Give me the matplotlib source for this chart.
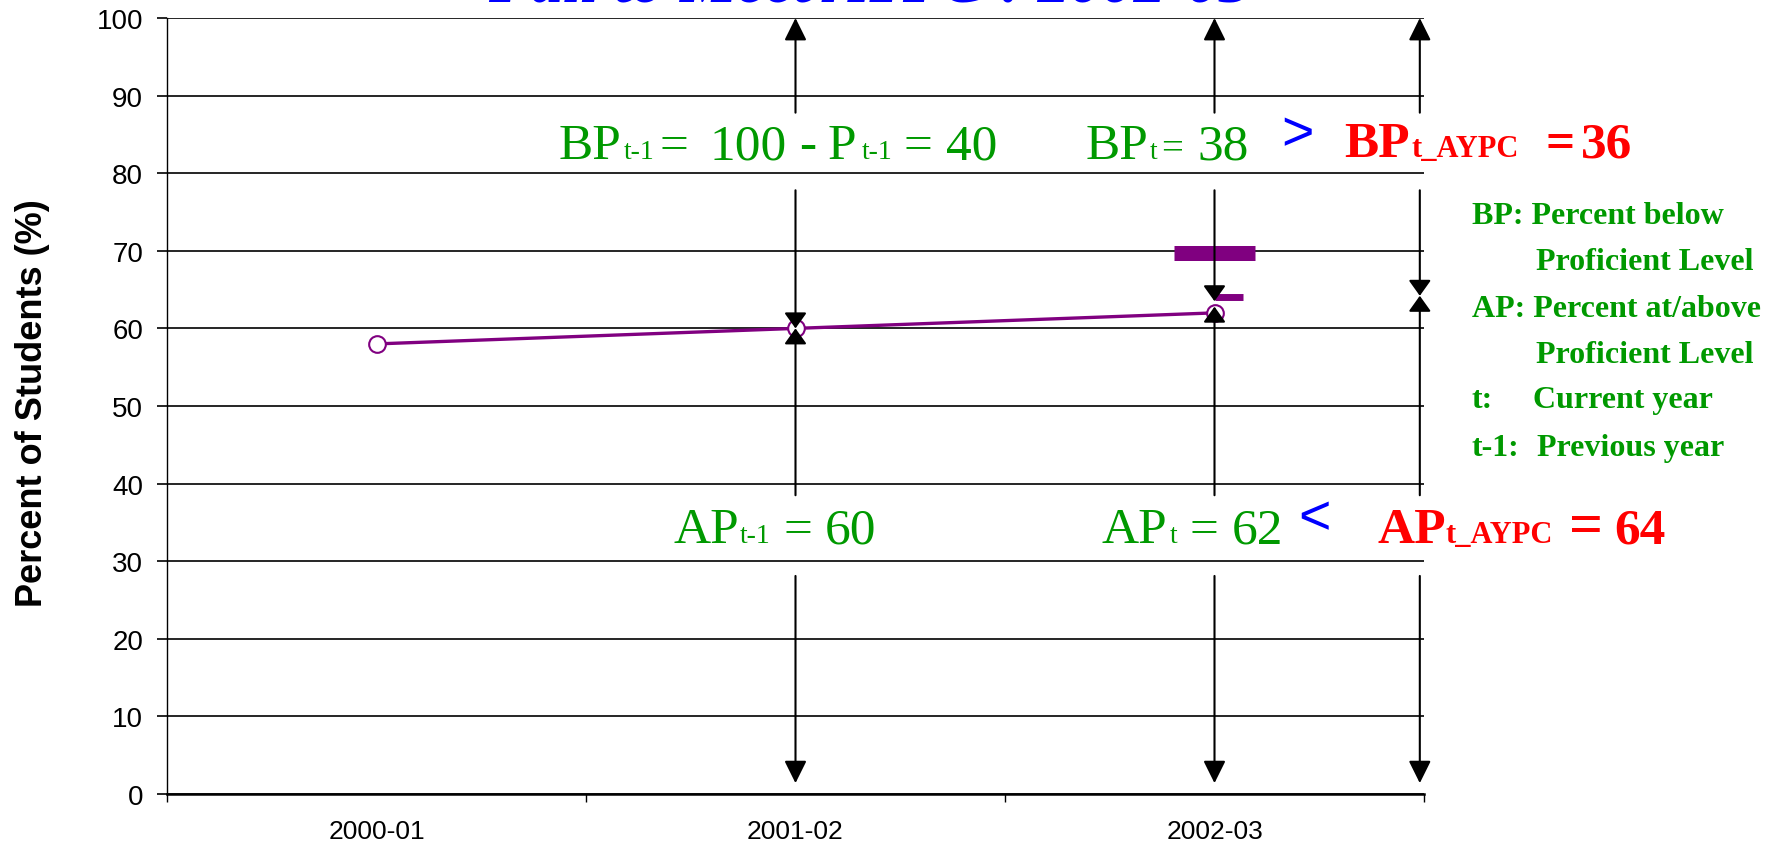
import matplotlib
matplotlib.use('Agg')
import matplotlib.pyplot as plt

W, H = 1779, 845

# data
years = ['2000-01', '2001-02', '2002-03']
pct_proficient = [58, 60, 62]
arrow_x = [1, 2, 2.49]          # 2001-02, 2002-03, AYPC target at right edge
bp_tip = [60, 63.5, 64.2]       # lower end of the BP (upper) arrows
ap_tip = [60, 62.8, 64.2]       # upper end of the AP (lower) arrows
target_bar_x = [1.903, 2.096]
target_bar_y = 69.7
aypc_bar_x = [2.0, 2.067]
aypc_bar_y = 64.1

GREEN = '#009900'
PURPLE = '#800080'
SERIF = 'Liberation Serif'
SANS = 'Liberation Sans'

fig = plt.figure(figsize=(W / 100, H / 100), dpi=100)
ax = fig.add_axes([167 / W, 1 - 795 / H, (1424 - 167) / W, (795 - 19) / H])
ax.set_xlim(-0.5, 2.5)
ax.set_ylim(0, 100)

# frame / grid
for s in ['top', 'right']:
    ax.spines[s].set_visible(False)
ax.spines['left'].set_linewidth(1.0)
ax.spines['bottom'].set_linewidth(1.8)
ax.set_yticks(range(0, 101, 10))
ax.yaxis.grid(True, color='black', linewidth=1.2)
ax.set_axisbelow(True)
ax.tick_params(axis='y', length=7.2, width=1.2, pad=10, labelsize=20)
for lab in ax.get_yticklabels():
    lab.set_family(SANS)
ax.set_xticks([-0.5, 0.5, 1.5, 2.5])
ax.set_xticklabels([])
ax.tick_params(axis='x', which='major', length=6, width=1.0)
ax.set_xticks([0, 1, 2], minor=True)
ax.set_xticklabels(years, minor=True, fontsize=19, family=SANS)
ax.tick_params(axis='x', which='minor', length=0, pad=18)

# series
ax.plot(range(len(years)), pct_proficient, color=PURPLE, lw=2.4, marker='o',
        markersize=12, markerfacecolor='white', markeredgecolor=PURPLE,
        markeredgewidth=1.5, zorder=3)
ax.plot(target_bar_x, [target_bar_y] * 2, color=PURPLE, lw=10.8,
        solid_capstyle='butt', zorder=3)
ax.plot(aypc_bar_x, [aypc_bar_y] * 2, color=PURPLE, lw=5,
        solid_capstyle='butt', zorder=3)


def arrow(x, y0, y1, big=True):
    hl = 1.37 if big else 0.95
    ax.annotate('', xy=(x, y1), xytext=(x, y0),
                arrowprops=dict(arrowstyle='-|>,head_length=%s,head_width=0.68' % hl,
                                color='black', lw=1.5, shrinkA=0, shrinkB=0,
                                mutation_scale=10),
                zorder=4)


for x, b, a in zip(arrow_x, bp_tip, ap_tip):
    arrow(x, 87.8, 100)
    arrow(x, 77.8, b, big=False)
    arrow(x, 38.5, a, big=False)
    arrow(x, 28.1, 1.4)


def put(x, y, s, **kw):
    fig.text(x / W, 1 - y / H, s, va='baseline', ha=kw.pop('ha', 'left'), **kw)


# title, cut by the top edge
put(870, 2, 'Fail to Meet AYPC : 2002-03', ha='center', fontsize=46,
    color='blue', style='italic', weight='bold', family=SERIF)

fig.text(33 / W, 1 - 403 / H, 'Percent of Students (%)', rotation=90,
         ha='center', va='center', fontsize=26, weight='bold', family=SANS)

big, sub = 37, 20
g = dict(color=GREEN, family=SERIF)
# BP row
put(559, 159, 'BP', fontsize=big, **g)
put(624, 159, 't-1', fontsize=sub, **g)
put(660, 159, '=', fontsize=big, **g)
put(710, 159, '100', fontsize=big, **g)
put(799, 159, '-', fontsize=big, **g)
put(828, 159, 'P', fontsize=big, **g)
put(862, 159, 't-1', fontsize=sub, **g)
put(903, 159, '=', fontsize=big, **g)
put(946, 159, '40', fontsize=big, **g)
put(1086, 159, 'BP', fontsize=big, **g)
put(1150, 159, 't', fontsize=sub, **g)
put(1161, 159, '=', fontsize=28, **g)
put(1197, 159, '38', fontsize=big, **g)
# AP row
put(673, 543, 'AP', fontsize=big, **g)
put(740, 543, 't-1', fontsize=sub, **g)
put(783, 543, '=', fontsize=big, **g)
put(825, 543, '60', fontsize=big, **g)
put(1102, 543, 'AP', fontsize=big, **g)
put(1170, 543, 't', fontsize=sub, **g)
put(1190, 543, '=', fontsize=big, **g)
put(1232, 543, '62', fontsize=big, **g)

# comparison signs
put(1297, 150, '>', ha='center', fontsize=40, color='blue', family=SANS)
put(1314, 534, '<', ha='center', fontsize=40, color='blue', family=SANS)

r = dict(color='red', family=SERIF, weight='bold')
put(1344, 157, 'BP', fontsize=big, **r)
put(1412, 157, 't_AYPC', fontsize=sub + 2, **r)
put(1546, 157, '=', fontsize=big, **r)
put(1581, 157, '36', fontsize=big, **r)
put(1377, 543, 'AP', fontsize=big, **r)
put(1446, 543, 't_AYPC', fontsize=sub + 2, **r)
put(1569, 543, '=', fontsize=big + 6, **r)
put(1614, 543, '64', fontsize=big, **r)

# key
k = dict(color=GREEN, family=SERIF, weight='bold', fontsize=23)
put(1472, 224, 'BP: Percent below', **k)
put(1536, 270, 'Proficient Level', **k)
put(1472, 317, 'AP: Percent at/above', **k)
put(1536, 363, 'Proficient Level', **k)
put(1472, 408, 't:', **k)
put(1533, 408, 'Current year', **k)
put(1472, 456, 't-1:', **k)
put(1537, 456, 'Previous year', **k)

fig.savefig('out.png', dpi=100)
plt.close(fig)
